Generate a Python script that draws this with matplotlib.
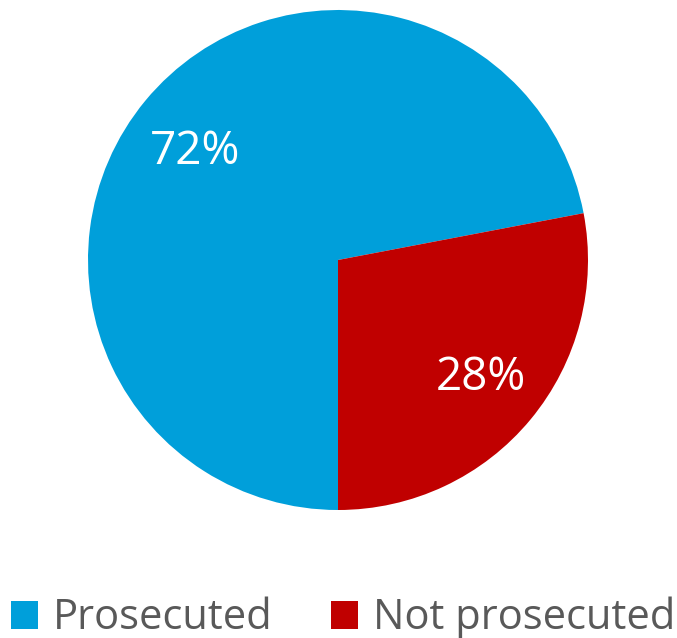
import matplotlib
matplotlib.use("Agg")
import matplotlib.pyplot as plt
from matplotlib.patches import Patch

plt.rcParams['font.family'] = ['Open Sans', 'DejaVu Sans']

labels = ["Prosecuted", "Not prosecuted"]
values = [72, 28]
colors = ["#009FDA", "#C00000"]

fig = plt.figure(figsize=(6.77, 6.38), dpi=100)
ax = fig.add_axes([88/677, 128/638, 500/677, 500/638])

wedges, texts, autotexts = ax.pie(
    values, colors=colors, startangle=10.8, counterclock=True,
    autopct='%d%%', pctdistance=0.74, radius=1.0,
    wedgeprops=dict(linewidth=0),
    textprops=dict(color='white', fontsize=33))
# nudge the big label down a little, as in the original
x0, y0 = autotexts[0].get_position()
autotexts[0].set_position((x0, y0 - 0.04))
ax.set_xlim(-1, 1)
ax.set_ylim(-1, 1)
ax.set_aspect('equal')
ax.axis('off')

handles = [Patch(facecolor=c, edgecolor='none') for c in colors]
fig.legend(handles, labels, loc='center', bbox_to_anchor=(0.507, 20/638),
           ncol=2, frameon=False, fontsize=30, labelcolor='#595959',
           handlelength=0.65, handleheight=0.65, handletextpad=0.35,
           columnspacing=1.4, borderpad=0, borderaxespad=0)

fig.savefig("out.png", dpi=100)
